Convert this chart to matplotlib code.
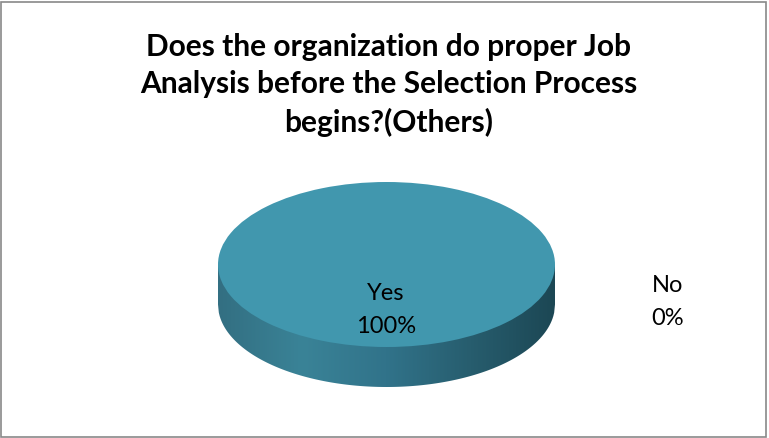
import numpy as np
import matplotlib.pyplot as plt
from matplotlib.patches import Rectangle
from matplotlib.colors import LinearSegmentedColormap

categories = ["Yes", "No"]
values = [100, 0]
title = "Does the organization do proper Job\nAnalysis before the Selection Process\nbegins?(Others)"

plt.rcParams['font.family'] = ['Lato', 'DejaVu Sans']

fig = plt.figure(figsize=(7.69, 4.39), dpi=100)
W, H = 769, 439

# frame round the whole chart
fig.patches.append(Rectangle((1 / W, 1 / H), 1 - 4 / W, 1 - 4 / H, transform=fig.transFigure,
                             fill=False, edgecolor='#898989', linewidth=1.2))

fig.text(389 / W, 1 - 85 / H, title, ha='center', va='center', fontsize=21.5,
         fontweight='bold', linespacing=1.4)

# pie axes: top face spans x 218..555 px, y 183..348 px, side depth 40 px
depth = 40 / 82.5
x0, x1 = 218, 555
ytop, ybot = 183, 388
ax = fig.add_axes([x0 / W, 1 - ybot / H, (x1 - x0) / W, (ybot - ytop) / H])

# side of the disc with horizontal gradient
xs = np.linspace(-1, 1, 400)
side_lo = -depth - np.sqrt(1 - xs ** 2)
poly = ax.fill_between(xs, side_lo, 0, color='none', linewidth=0)
grad = np.linspace(0, 1, 256)
cmap = LinearSegmentedColormap.from_list('side', ['#336f82', '#3a8397', '#31738a', '#275d6e', '#1c4754'])
img = ax.imshow(grad[None, :], extent=[-1, 1, -1 - depth, 0], aspect='auto', cmap=cmap, zorder=1)
img.set_clip_path(poly.get_paths()[0], transform=ax.transData)

wedges, _ = ax.pie(values, colors=['#4197ae', '#c0504d'], startangle=90, counterclock=False,
                   radius=1, wedgeprops=dict(linewidth=0))
for w in wedges:
    w.set_zorder(2)

ax.set_aspect('auto')
ax.set_xlim(-1, 1)
ax.set_ylim(-1 - depth, 1)
ax.axis('off')

# data labels
fig.text(386 / W, 1 - 310 / H, f"{categories[0]}\n{values[0]}%", ha='center', va='center',
         fontsize=17, linespacing=1.75, zorder=3)
fig.text(668 / W, 1 - 302 / H, f"{categories[1]}\n{values[1]}%", ha='center', va='center',
         fontsize=17, linespacing=1.75)

fig.savefig('out.png', dpi=100)
